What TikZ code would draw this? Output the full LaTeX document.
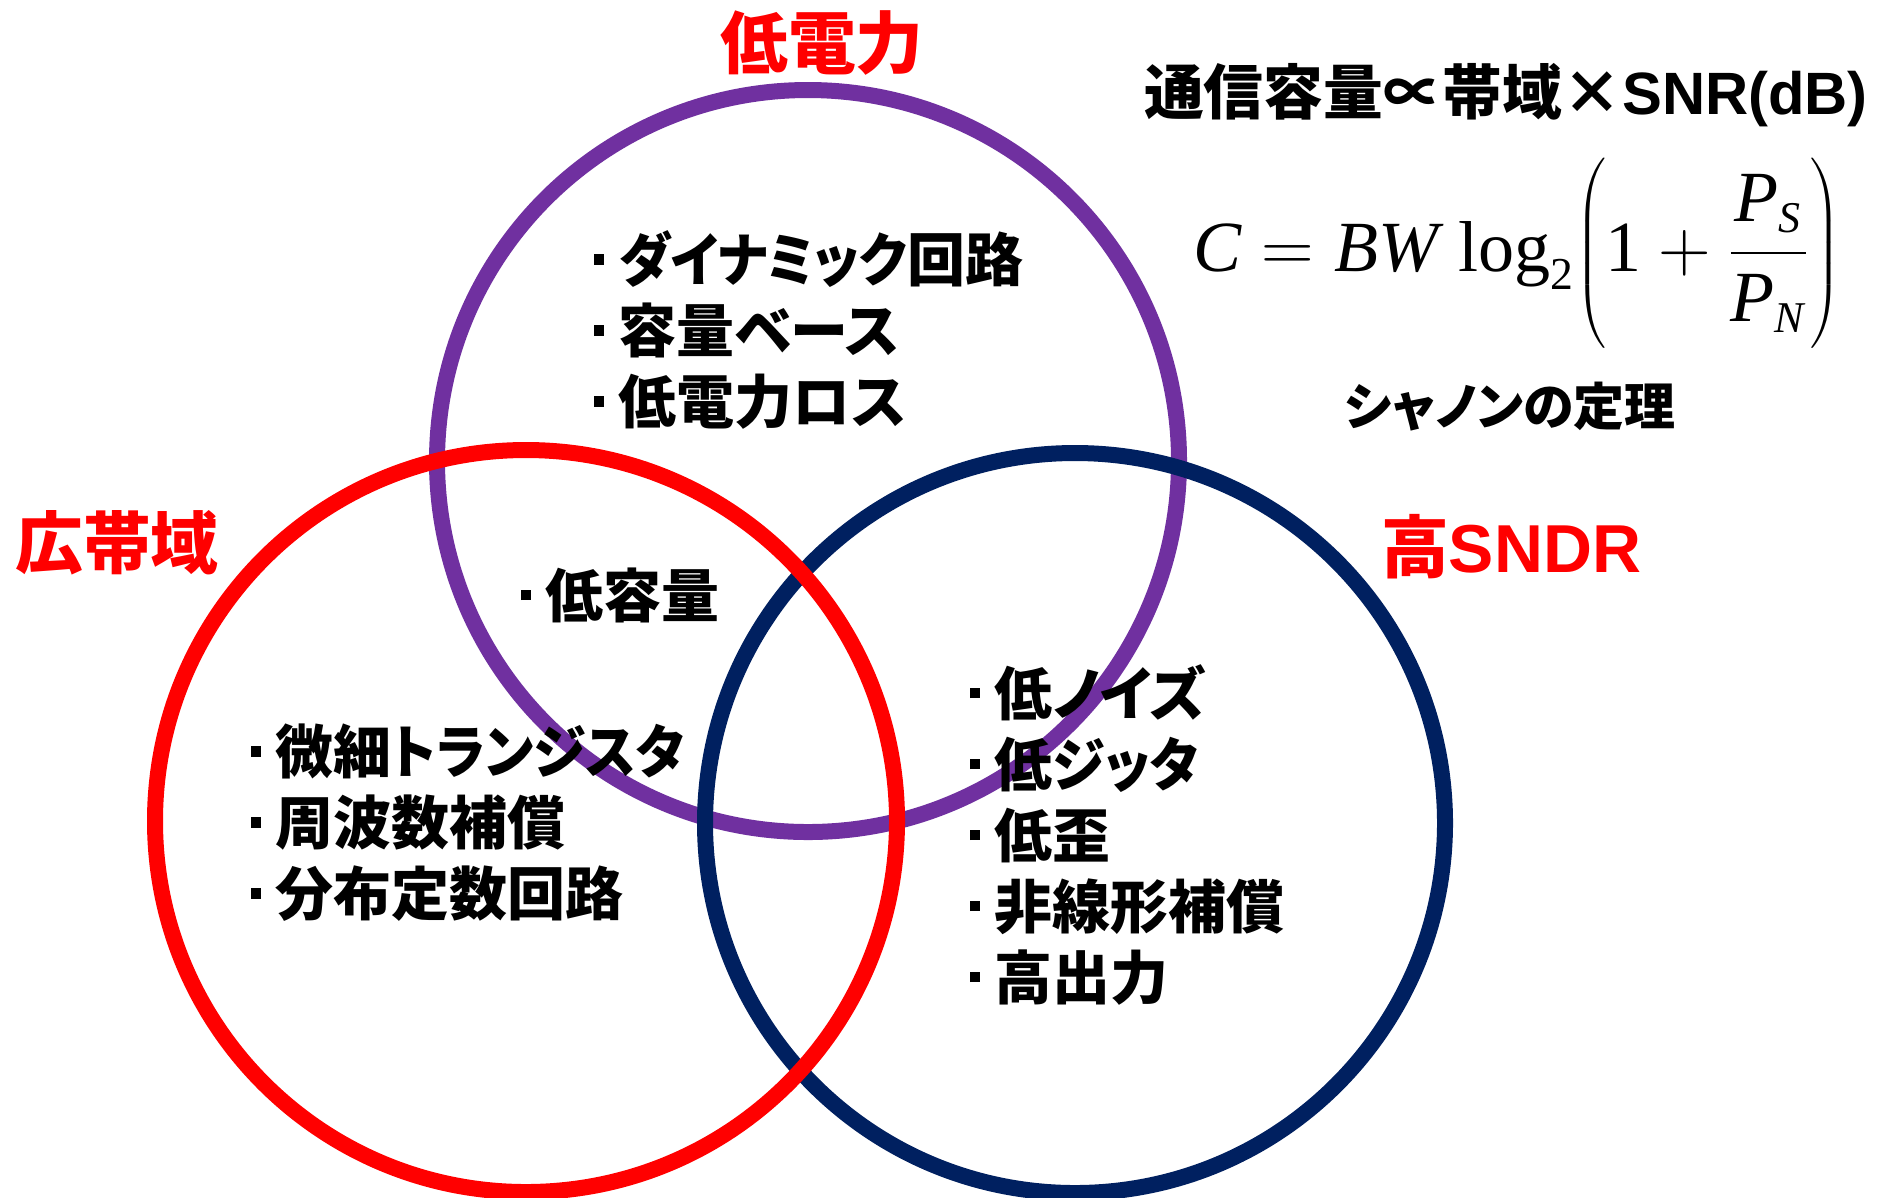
\documentclass[tikz,border=0pt]{standalone}
\usepackage{fontspec}
\setmainfont{Liberation Serif}
\newfontfamily\jp[RawFeature=+palt]{Noto Sans CJK JP}
\newfontfamily\jpn[RawFeature=+palt, FakeStretch=0.92]{Noto Sans CJK JP}
\newfontfamily\arial{Liberation Sans}
\newfontfamily\tnr{Liberation Serif}
\definecolor{cpurple}{HTML}{7030A0}
\definecolor{cnavy}{HTML}{002060}
\newcommand\bul{\raisebox{0.29em}{\rule{0.18em}{0.18em}}\hspace{0.25em}}
\newcommand\kn[1]{{\jpn\bfseries #1}}
\newcommand\ti[1]{\mbox{\tnr\itshape #1}}
\newcommand\tsub[1]{\mbox{\tnr\itshape\fontsize{12.5}{12.5}\selectfont #1}}
\begin{document}
\begin{tikzpicture}
\tikzset{
 ring/.style={line width=0.16cm},
 lab/.style={text=red, font=\jp\bfseries\fontsize{19.3}{23}\selectfont, inner sep=0},
 lst/.style={font=\jp\bfseries\fontsize{16.5}{20.2}\selectfont, align=left, anchor=west, inner sep=0},
}
\useasboundingbox (0,0) rectangle (18.86,-11.97);
\fill[white] (0,0) rectangle (18.86,-11.97);
\draw[ring, draw=cpurple] (8.08,-4.61) circle (3.71);
\draw[ring, draw=cnavy] (10.75,-8.23) circle (3.70);
\draw[ring, draw=red] (5.26,-8.21) circle (3.71);

\node[lab] (lowpower) at (8.22,-0.43) {低電力};
\node[lab] (wideband) at (1.17,-5.43) {広帯域};
\node[lab] (highsndr) at (15.11,-5.47) {高{\arial\bfseries SNDR}};

\node[font=\jp\bfseries\fontsize{17}{20}\selectfont, inner sep=0] (title) at (15.06,-0.95) {通信容量∝帯域×{\arial\bfseries SNR(dB)}};
\node[inner sep=0] (formula) at (15.17,-2.53) {\fontsize{20.5}{24}\selectfont $\ti{C} = \ti{BW}\;\mbox{\tnr log}_{\mbox{\tnr\fontsize{13}{13}\selectfont 2}}\!\left(\vcenter{\hbox{\rule{0pt}{1.95cm}}}\mbox{\tnr 1}+\displaystyle\frac{\ti{P}_{\tsub{S}}}{\ti{P}_{\tsub{N}}}\right)$};
\node[font=\jp\bfseries\fontsize{14.5}{17}\selectfont, inner sep=0] (shannon) at (15.10,-4.07) {シャノンの定理};

\node[lst] (plist) at (5.93,-3.30) {\bul \kn{ダイナミック}回路\\\bul 容量ベース\\\bul 低電力ロス};
\node[lst] (center) at (5.20,-5.95) {\bul 低容量};
\node[lst] (rlist) at (2.50,-8.225) {\bul 微細\kn{トランジスタ}\\\bul 周波数補償\\\bul 分布定数回路};
\node[lst] (nlist) at (9.69,-8.345) {\bul 低ノイズ\\\bul 低\kn{ジッタ}\\\bul 低歪\\\bul 非線形補償\\\bul 高出力};
\end{tikzpicture}
\end{document}
